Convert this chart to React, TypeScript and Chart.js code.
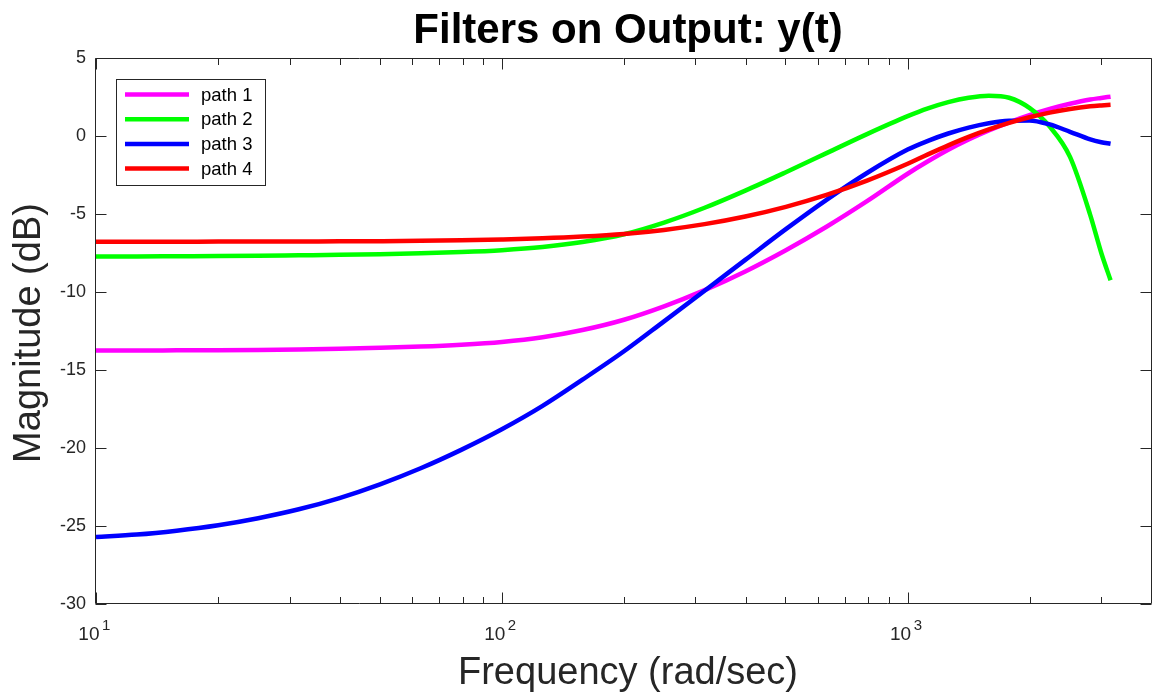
import React, { useEffect, useRef } from "react";
import { Chart, registerables } from "chart.js";

Chart.register(...registerables);

// Frequency grid (rad/sec) shared by all four magnitude responses
const frequencies = [
  10, 12.6, 15.8, 20, 25.1, 31.6, 39.8, 50.1, 63.1, 79.4, 100, 126, 158, 200, 251, 316,
  398, 501, 631, 794, 1000, 1122, 1259, 1413, 1585, 1778, 1995, 2239, 2512, 2818, 3000,
  3162,
];

// Magnitude responses in dB
const path1 = [
  -13.75, -13.75, -13.74, -13.73, -13.71, -13.68, -13.64, -13.58, -13.5, -13.38, -13.2,
  -12.9, -12.44, -11.78, -10.92, -9.88, -8.68, -7.32, -5.82, -4.18, -2.42,
  -1.62, -0.88, -0.22, 0.36, 0.88, 1.34, 1.74, 2.07, 2.34, 2.44, 2.52,
];
const path2 = [
  -7.72, -7.72, -7.71, -7.7, -7.68, -7.65, -7.62, -7.58, -7.52, -7.44, -7.32,
  -7.12, -6.8, -6.3, -5.55, -4.6, -3.5, -2.32, -1.1, 0.12, 1.27,
  1.77, 2.17, 2.45, 2.58, 2.45, 1.8, 0.6, -1.34, -5.07, -7.5, -9.25,
];
const path3 = [
  -25.7, -25.55, -25.3, -24.95, -24.5, -23.93, -23.21, -22.33, -21.3, -20.12, -18.8,
  -17.3, -15.62, -13.8, -11.88, -9.92, -7.94, -5.97, -4.09, -2.37, -0.87,
  -0.31, 0.16, 0.54, 0.82, 0.98, 1.0, 0.74, 0.27, -0.22, -0.4, -0.5,
];
const path4 = [
  -6.78, -6.78, -6.78, -6.77, -6.77, -6.76, -6.75, -6.74, -6.72, -6.68, -6.63,
  -6.56, -6.45, -6.28, -6.02, -5.65, -5.16, -4.54, -3.78, -2.86, -1.78,
  -1.18, -0.6, -0.06, 0.42, 0.84, 1.2, 1.5, 1.73, 1.9, 1.96, 2.0,
];

const seriesValues = [path1, path2, path3, path4];
const seriesLabels = ["path 1", "path 2", "path 3", "path 4"];
const seriesColors = ["#ff00ff", "#00ff00", "#0000ff", "#ff0000"];

// Axis ranges and ticks
const xMin = 10;
const xMax = 4000;
const yMin = -30;
const yMax = 5;
const yStep = 5;
const xDecades = [10, 100, 1000];
const xDecadeExponents = ["1", "2", "3"];
const xMinorTicks = [20, 30, 40, 50, 60, 70, 80, 90, 200, 300, 400, 500, 600, 700, 800, 900, 2000, 3000];

const titleText = "Filters on Output: y(t)";
const xLabelText = "Frequency (rad/sec)";
const yLabelText = "Magnitude (dB)";

const FONT = '"Liberation Sans", Arial, Helvetica, sans-serif';
const AXIS_COLOR = "#262626";

const axesPlugin = {
  id: "boxedAxes",
  afterDatasetsDraw(chart: any) {
    const { ctx, chartArea: a, scales } = chart;
    const xs = scales.x;
    const ys = scales.y;
    ctx.save();
    ctx.strokeStyle = AXIS_COLOR;
    ctx.lineWidth = 1;

    // axes box
    const L = Math.round(a.left) - 0.5;
    const R = Math.round(a.right) - 0.5;
    const T = Math.round(a.top) + 0.5;
    const B = Math.round(a.bottom) - 0.5;
    ctx.beginPath();
    ctx.moveTo(L, T);
    ctx.lineTo(R, T);
    ctx.lineTo(R, B);
    ctx.lineTo(L, B);
    ctx.closePath();
    ctx.stroke();

    // inward ticks on the log x axis (top and bottom)
    const drawXTick = (v: number, len: number) => {
      const px = Math.round(xs.getPixelForValue(v)) + 0.5;
      ctx.beginPath();
      ctx.moveTo(px, B);
      ctx.lineTo(px, B - len);
      ctx.moveTo(px, T);
      ctx.lineTo(px, T + len);
      ctx.stroke();
    };
    xDecades.forEach((v) => drawXTick(v, 11));
    xMinorTicks.forEach((v) => drawXTick(v, 6.5));

    // inward ticks on the y axis (left and right)
    for (let v = yMin; v <= yMax; v += yStep) {
      const py = Math.round(ys.getPixelForValue(v)) + 0.5;
      ctx.beginPath();
      ctx.moveTo(L, py);
      ctx.lineTo(L + 11, py);
      ctx.moveTo(R, py);
      ctx.lineTo(R - 11, py);
      ctx.stroke();
    }

    // decade labels with superscript exponents
    ctx.fillStyle = AXIS_COLOR;
    ctx.textBaseline = "alphabetic";
    xDecades.forEach((v, i) => {
      const px = xs.getPixelForValue(v);
      ctx.font = `19px ${FONT}`;
      ctx.textAlign = "right";
      ctx.fillText("10", px + 3.5, 640);
      ctx.font = `15px ${FONT}`;
      ctx.textAlign = "left";
      ctx.fillText(xDecadeExponents[i], px + 6, 630);
    });

    // legend box in the upper-left corner of the axes
    const lx = 116.5;
    const ly = 79.5;
    const lw = 149;
    const lh = 106;
    ctx.fillStyle = "#ffffff";
    ctx.fillRect(lx, ly, lw, lh);
    ctx.strokeStyle = AXIS_COLOR;
    ctx.lineWidth = 1;
    ctx.strokeRect(lx, ly, lw, lh);
    chart.data.datasets.forEach((ds: any, i: number) => {
      const rowY = 94.5 + i * 24.7;
      ctx.strokeStyle = ds.borderColor;
      ctx.lineWidth = 4.5;
      ctx.beginPath();
      ctx.moveTo(125, rowY);
      ctx.lineTo(189, rowY);
      ctx.stroke();
      ctx.fillStyle = "#000000";
      ctx.font = `18.5px ${FONT}`;
      ctx.textAlign = "left";
      ctx.textBaseline = "middle";
      ctx.fillText(ds.label, 201, rowY + 1);
    });

    // title and axis labels
    const cx = (a.left + a.right) / 2 + 4;
    ctx.textAlign = "center";
    ctx.textBaseline = "alphabetic";
    ctx.fillStyle = "#000000";
    ctx.font = `bold 42px ${FONT}`;
    ctx.fillText(titleText, cx, 43);

    ctx.fillStyle = AXIS_COLOR;
    ctx.font = `38px ${FONT}`;
    ctx.fillText(xLabelText, cx, 684);

    ctx.save();
    ctx.translate(40, (a.top + a.bottom) / 2 + 2);
    ctx.rotate(-Math.PI / 2);
    ctx.fillText(yLabelText, 0, 0);
    ctx.restore();

    ctx.restore();
  },
};

export default function App() {
  const canvasRef = useRef<HTMLCanvasElement | null>(null);

  useEffect(() => {
    const canvas = canvasRef.current;
    if (!canvas) return;

    const datasets = seriesValues.map((vals, i) => ({
      label: seriesLabels[i],
      data: frequencies.map((f, j) => ({ x: f, y: vals[j] })),
      borderColor: seriesColors[i],
      backgroundColor: seriesColors[i],
      borderWidth: 4.5,
      pointRadius: 0,
      fill: false,
      cubicInterpolationMode: "monotone" as const,
      // later paths are painted over earlier ones
      order: seriesValues.length - i,
    }));

    const chart = new Chart(canvas, {
      type: "line",
      data: { datasets },
      options: {
        responsive: false,
        animation: false,
        layout: { padding: { top: 58, right: 2, left: 0, bottom: 0 } },
        plugins: {
          legend: { display: false },
          title: { display: false },
          tooltip: { enabled: false },
        },
        scales: {
          x: {
            type: "logarithmic",
            min: xMin,
            max: xMax,
            grid: { display: false },
            border: { display: false },
            ticks: { display: false },
            afterFit: (s: any) => {
              s.height = 94;
            },
          },
          y: {
            type: "linear",
            min: yMin,
            max: yMax,
            grid: { display: false },
            border: { display: false },
            ticks: {
              stepSize: yStep,
              color: AXIS_COLOR,
              padding: 2,
              font: { family: FONT, size: 18 },
            },
            afterFit: (s: any) => {
              s.width = 96;
            },
          },
        },
      },
      plugins: [axesPlugin],
    });

    return () => chart.destroy();
  }, []);

  return (
    <div style={{ position: "absolute", left: 0, top: 0, width: 1154, height: 698, background: "#ffffff" }}>
      <canvas ref={canvasRef} width={1154} height={698} />
    </div>
  );
}
